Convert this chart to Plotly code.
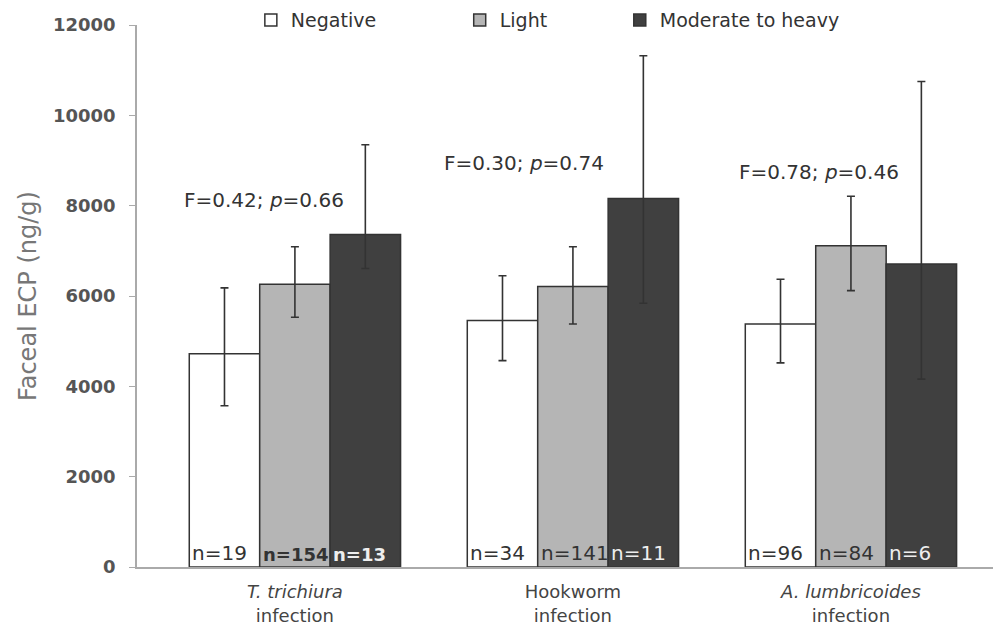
import plotly.graph_objects as go

categories = ["<i>T. trichiura</i><br>infection", "Hookworm<br>infection", "<i>A. lumbricoides</i><br>infection"]

neg_mean = [4720, 5460, 5380]
neg_upper = [6180, 6450, 6370]
neg_lower = [3570, 4570, 4520]
neg_n = [19, 34, 96]

light_mean = [6260, 6210, 7110]
light_upper = [7090, 7090, 8210]
light_lower = [5530, 5380, 6120]
light_n = [154, 141, 84]

heavy_mean = [7360, 8160, 6710]
heavy_upper = [9350, 11320, 10750]
heavy_lower = [6610, 5840, 4160]
heavy_n = [13, 11, 6]

stats_text = ["F=0.42; <i>p</i>=0.66", "F=0.30; <i>p</i>=0.74", "F=0.78; <i>p</i>=0.46"]
stats_y = [8120, 8940, 8740]

y_ticks = [0, 2000, 4000, 6000, 8000, 10000, 12000]
y_ticktext = ["0", "2000", "4000", "6000", "8000", "10000", "12000"]

FONT = "DejaVu Sans"
BARGAP = 0.24

series = [
    ("Negative", neg_mean, neg_upper, neg_lower, neg_n, [False, False, False],
     "#ffffff", "#333333", "legend"),
    ("Light", light_mean, light_upper, light_lower, light_n, [True, False, False],
     "#b5b5b5", "#333333", "legend2"),
    ("Moderate to heavy", heavy_mean, heavy_upper, heavy_lower, heavy_n, [True, False, False],
     "#404040", "#eeeeee", "legend3"),
]

fig = go.Figure()
bar_w = (1 - BARGAP) / len(series)
for k, (name, mean, up, lo, ns, bold, fill, tcol, leg) in enumerate(series):
    fig.add_trace(go.Bar(
        name=name,
        x=categories,
        y=mean,
        marker=dict(color=fill, line=dict(color="#333333", width=1.5)),
        error_y=dict(type="data", symmetric=False,
                     array=[u - m for u, m in zip(up, mean)],
                     arrayminus=[m - l for m, l in zip(mean, lo)],
                     color="#333333", thickness=1.6, width=4),
        legend=leg,
    ))
    # n= labels, left-aligned at the bottom of each bar
    for i, (n, b) in enumerate(zip(ns, bold)):
        t = f"n={n}"
        fig.add_annotation(
            x=i - (1 - BARGAP) / 2 + k * bar_w, y=0, xref="x", yref="y",
            text=f"<b>{t}</b>" if b else t, showarrow=False,
            xanchor="left", yanchor="bottom", xshift=1, yshift=0,
            font=dict(family=FONT, size=18 if b else 20, color=tcol))

offsets = [-0.11, -0.176, -0.115]
for i, (t, yv) in enumerate(zip(stats_text, stats_y)):
    fig.add_annotation(x=i + offsets[i], y=yv, text=t, showarrow=False,
                       font=dict(family=FONT, size=20, color="#333333"),
                       xanchor="center", yanchor="middle")

legend_common = dict(orientation="h", yref="paper", y=1.009, yanchor="middle",
                     xanchor="left", bgcolor="rgba(0,0,0,0)",
                     font=dict(family=FONT, size=19, color="#333333"),
                     itemwidth=30)

fig.update_layout(
    width=985, height=620,
    margin=dict(l=129, r=0, t=17, b=61, autoexpand=False),
    paper_bgcolor="white", plot_bgcolor="white",
    barmode="group", bargap=BARGAP, bargroupgap=0,
    showlegend=True,
    legend=dict(x=0.133, **legend_common),
    legend2=dict(x=0.377, **legend_common),
    legend3=dict(x=0.564, **legend_common),
    xaxis=dict(range=[-0.568, 2.511], showline=True, linecolor="#aaaaaa", linewidth=1.5,
               ticks="", ticklabelstandoff=8,
               tickfont=dict(family=FONT, size=18, color="#444444"),
               showgrid=False, zeroline=False, automargin=False),
    yaxis=dict(range=[0, 12000], tickvals=y_ticks, ticktext=y_ticktext, showline=True,
               linecolor="#aaaaaa", linewidth=1.5, ticks="outside", ticklen=6,
               tickcolor="#aaaaaa", ticklabelstandoff=10,
               tickfont=dict(family=FONT, size=18, color="#555555", weight="bold"),
               showgrid=False, zeroline=False, automargin=False,
               title=dict(text="Faceal ECP (ng/g)", standoff=10,
                          font=dict(family=FONT, size=24, color="#777777"))),
)

fig.write_html("out.html")
